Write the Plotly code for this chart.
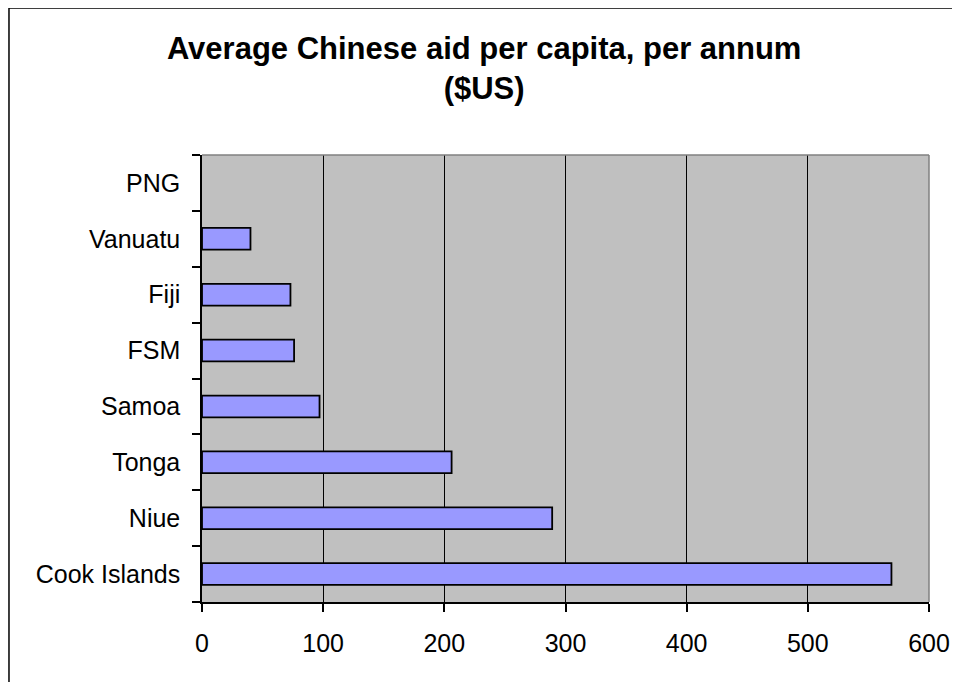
import plotly.graph_objects as go

countries = ["Cook Islands", "Niue", "Tonga", "Samoa", "FSM", "Fiji", "Vanuatu", "PNG"]
aid_per_capita = [569, 289, 206, 97, 76, 73, 40, 0]
x_ticks = [0, 100, 200, 300, 400, 500, 600]

# no outline for zero-length bars (nothing is drawn in the original)
outline_widths = [1.8 if v > 0 else 0 for v in aid_per_capita]

fig = go.Figure(go.Bar(
    x=aid_per_capita,
    y=countries,
    orientation="h",
    width=0.39,
    marker=dict(color="#9999FF", line=dict(color="#000000", width=outline_widths)),
    hoverinfo="x+y",
))

font_family = "Liberation Sans, Arial, sans-serif"

fig.update_layout(
    width=960,
    height=682,
    margin=dict(l=194, r=39, t=147, b=88, autoexpand=False),
    paper_bgcolor="white",
    plot_bgcolor="#C0C0C0",
    showlegend=False,
    title=dict(
        text="<b>Average Chinese aid per capita, per annum<br>($US)</b>",
        x=0.496, xanchor="center",
        y=0.925, yanchor="middle", yref="container",
        font=dict(family=font_family, size=31, color="black"),
    ),
    font=dict(family=font_family, size=25, color="black"),
    xaxis=dict(
        range=[0, 600],
        tickvals=x_ticks,
        ticktext=[str(v) for v in x_ticks],
        showgrid=True, gridcolor="#000000", gridwidth=1,
        zeroline=False,
        showline=True, linecolor="#000000", linewidth=1.5,
        ticks="outside", ticklen=8, tickcolor="#000000", tickwidth=1.5,
        tickfont=dict(family=font_family, size=25, color="black"),
        ticklabelstandoff=10,
        fixedrange=True,
    ),
    yaxis=dict(
        type="category",
        categoryorder="array", categoryarray=countries,
        range=[-0.5, len(countries) - 0.5],
        showgrid=False,
        zeroline=False,
        showline=True, linecolor="#000000", linewidth=1.5,
        ticks="outside", ticklen=8, tickcolor="#000000", tickwidth=1.5,
        tickson="boundaries",
        tickfont=dict(family=font_family, size=25, color="black"),
        ticklabelstandoff=15,
        fixedrange=True,
    ),
    shapes=[
        # gray plot-area border on top and right
        dict(type="line", xref="paper", yref="paper", x0=0, x1=1, y0=1, y1=1,
             line=dict(color="#808080", width=1.5), layer="above"),
        dict(type="line", xref="paper", yref="paper", x0=1, x1=1, y0=0, y1=1,
             line=dict(color="#808080", width=1.5), layer="above"),
        # outer chart frame (extends past the right and bottom edges)
        dict(type="rect", xref="paper", yref="paper",
             x0=-0.2655, x1=1.2, y0=-0.4, y1=1.329,
             line=dict(color="#000000", width=1.5), fillcolor="rgba(0,0,0,0)",
             layer="above"),
    ],
)

fig.write_html("out.html")
